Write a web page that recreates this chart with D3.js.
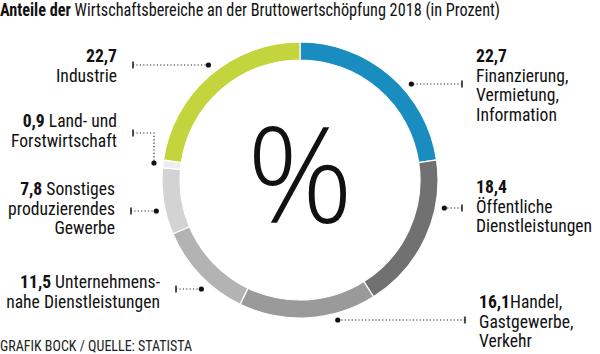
<!DOCTYPE html>
<html>
<head>
<meta charset="utf-8">
<script src="https://cdn.jsdelivr.net/npm/d3@7"></script>
<style>
  html, body { margin: 0; padding: 0; background: #fff; }
  svg { display: block; }
  text { font-family: "Roboto Condensed", "Liberation Sans Narrow", "DejaVu Sans Condensed", "Open Sans", sans-serif; fill: #111; }
</style>
</head>
<body>
<script>
// order clockwise from 12 o'clock
var categories = ["Finanzierung", "Oeffentliche", "Handel", "Unternehmen", "Sonstiges", "Land", "Industrie"];
var values = [22.7, 18.4, 16.1, 11.5, 7.8, 0.9, 22.7];
var colors = ["#1a8dc0", "#717171", "#9a9a9a", "#b3b3b3", "#d3d3d3", "#ececec", "#c3d43c"];
var labelLines = [
  ["", "Finanzierung,", "Vermietung,", "Information"],
  ["", "Öffentliche", "Dienstleistungen"],
  ["Handel,", "Gastgewerbe,", "Verkehr"],
  [" Unternehmens-", "nahe Dienstleistungen"],
  [" Sonstiges", "produzierendes", "Gewerbe"],
  [" Land- und", "Forstwirtschaft"],
  ["", "Industrie"]
];

var width = 600, height = 354;
var cx = 300, cy = 180, outerR = 138, innerR = 120, dotR = 147, lineH = 19.6;

// label placement: side, first baseline, leader y, tick x, optional dot y (elbow)
var layout = [
  { side: "right", y: 62, ly: 84, tx: 462 },
  { side: "right", y: 193, ly: 208, tx: 462 },
  { side: "right", y: 308, ly: 320, tx: 465, r: 145 },
  { side: "left", y: 288, ly: 289, tx: 176 },
  { side: "left", y: 195, ly: 211, tx: 131 },
  { side: "left", y: 127, ly: 133, tx: 133, dy: 163 },
  { side: "left", y: 62, ly: 65, tx: 133 }
];

var fmt = d3.formatLocale({ decimal: ",", thousands: ".", grouping: [3], currency: ["", ""] }).format(".1f");

var svg = d3.select("body").append("svg")
  .attr("width", width)
  .attr("height", height);

// title, squeezed to the width of the original
var title = svg.append("text")
  .attr("x", 0).attr("y", 16)
  .attr("textLength", 500)
  .attr("lengthAdjust", "spacingAndGlyphs")
  .style("font-size", "17.5px");
title.append("tspan").style("font-weight", "bold").text("Anteile der");
title.append("tspan").text(" Wirtschaftsbereiche an der Bruttowertschöpfung 2018 (in Prozent)");

var pie = d3.pie().sort(null).value(d => d)(values);
var arc = d3.arc().innerRadius(innerR).outerRadius(outerR);

var g = svg.append("g").attr("transform", "translate(" + cx + "," + cy + ")");
g.selectAll("path")
  .data(pie)
  .enter()
  .append("path")
  .attr("d", arc)
  .attr("fill", (d, i) => colors[i])
  .attr("stroke", "#fff")
  .attr("stroke-width", 1.2);

g.append("text")
  .attr("text-anchor", "middle")
  .attr("y", 43)
  .style("font-family", "'Open Sans', sans-serif")
  .style("font-weight", 300)
  .style("font-size", "132px")
  .text("%");

// leaders + labels
var ann = svg.append("g");
layout.forEach(function(p, i) {
  var r = p.r || dotR;
  var dotY = p.dy || p.ly;
  var off = Math.sqrt(r * r - (dotY - cy) * (dotY - cy));
  var dotX = p.side === "left" ? cx - off : cx + off;

  var pts = p.dy ? [[p.tx, p.ly], [dotX, p.ly], [dotX, dotY]] : [[p.tx, p.ly], [dotX, dotY]];
  ann.append("path")
    .attr("d", d3.line()(pts))
    .attr("fill", "none")
    .attr("stroke", "#222")
    .attr("stroke-width", 1.2)
    .attr("stroke-dasharray", "1.2,2.2");
  ann.append("line")
    .attr("x1", p.tx).attr("x2", p.tx)
    .attr("y1", p.ly - 3.5).attr("y2", p.ly + 3.5)
    .attr("stroke", "#222").attr("stroke-width", 1.6);
  ann.append("circle")
    .attr("cx", dotX).attr("cy", dotY).attr("r", 2.6)
    .attr("fill", "#111");

  var tx = p.side === "left" ? p.tx - 16 : p.tx + 14;
  var t = ann.append("text")
    .attr("text-anchor", p.side === "left" ? "end" : "start")
    .style("font-size", "17.6px");
  labelLines[i].forEach(function(line, j) {
    var ts = t.append("tspan").attr("x", tx).attr("y", p.y + j * lineH);
    if (j === 0) {
      ts.append("tspan").style("font-weight", "bold").text(fmt(values[i]));
    }
    ts.append("tspan").text(line);
  });
});

// source
svg.append("text")
  .attr("x", 0).attr("y", 351)
  .style("font-size", "14px")
  .style("fill", "#222")
  .text("GRAFIK BOCK / QUELLE: STATISTA");
</script>
</body>
</html>
